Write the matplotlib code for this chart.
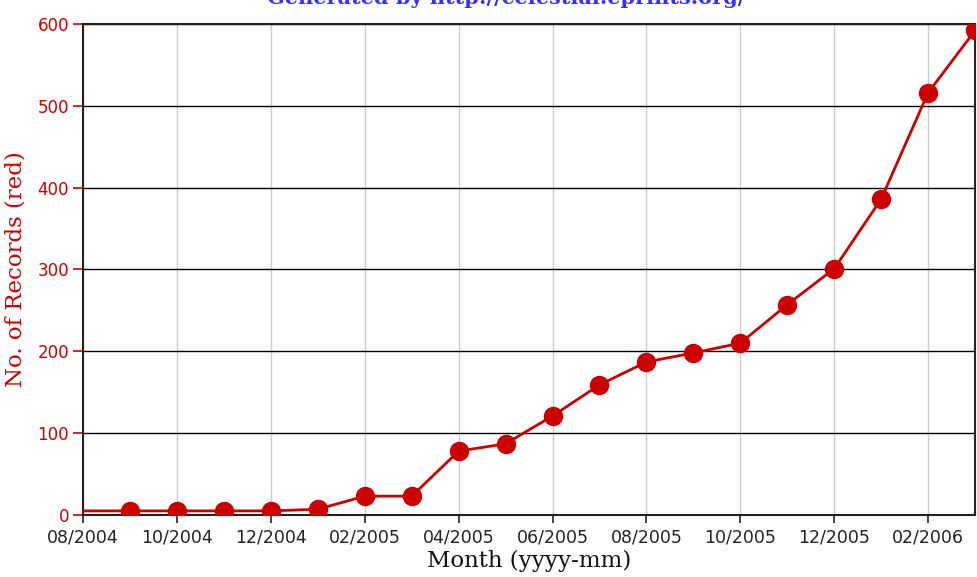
import matplotlib.pyplot as plt

# Monthly record counts, one value per month
months = ['2004-08', '2004-09', '2004-10', '2004-11', '2004-12', '2005-01',
          '2005-02', '2005-03', '2005-04', '2005-05', '2005-06', '2005-07',
          '2005-08', '2005-09', '2005-10', '2005-11', '2005-12', '2006-01',
          '2006-02', '2006-03']
records = [5, 5, 5, 5, 5, 7, 23, 23, 78, 87, 121, 159, 187, 198, 210,
           257, 301, 386, 516, 592]
tick_labels = ['08/2004', '10/2004', '12/2004', '02/2005', '04/2005', '06/2005',
               '08/2005', '10/2005', '12/2005', '02/2006']
y_ticks = [0, 100, 200, 300, 400, 500, 600]

x = list(range(len(months)))
red = '#cc0000'

fig = plt.figure(figsize=(9.78, 5.77), dpi=100)
ax = fig.add_axes([0.0849, 0.1075, 0.9121, 0.851])

# Line through all months, markers from September onwards
ax.plot(x, records, color=red, linewidth=2, marker='o', markersize=13,
        markevery=list(range(1, len(x))), zorder=3)

ax.set_xlim(0, len(months) - 1)
ax.set_ylim(0, 600)

ax.set_xticks(x[::2])
ax.set_xticklabels(tick_labels)
ax.set_yticks(y_ticks)

# Grid: grey vertical lines, black horizontal lines
ax.xaxis.grid(True, color='#cccccc', linewidth=1)
ax.yaxis.grid(True, color='black', linewidth=1)
ax.set_axisbelow(True)

for s in ax.spines.values():
    s.set_color('#222222')
    s.set_linewidth(1.5)

ax.tick_params(axis='x', colors='#222222', labelsize=12.5, length=6, width=1.2,
               direction='out')
ax.tick_params(axis='y', colors=red, labelsize=12, length=7, width=1.2,
               direction='out', pad=3)
for lbl in ax.get_xticklabels():
    lbl.set_color('#222222')

ax.set_xlabel('Month (yyyy-mm)', family='DejaVu Serif', fontsize=16.5,
              color='#111111', labelpad=3)
ax.set_ylabel('No. of Records (red)', family='DejaVu Serif', fontsize=16.5,
              color=red, labelpad=8)

# Title sits partly above the top edge, as in the original image
fig.text(0.518, 1 - 4 / 577, 'Generated by http://celestial.eprints.org/',
         family='DejaVu Serif', fontweight='bold', fontsize=15,
         color='#3333ee', ha='center', va='baseline')

fig.savefig('out.png', dpi=100)
